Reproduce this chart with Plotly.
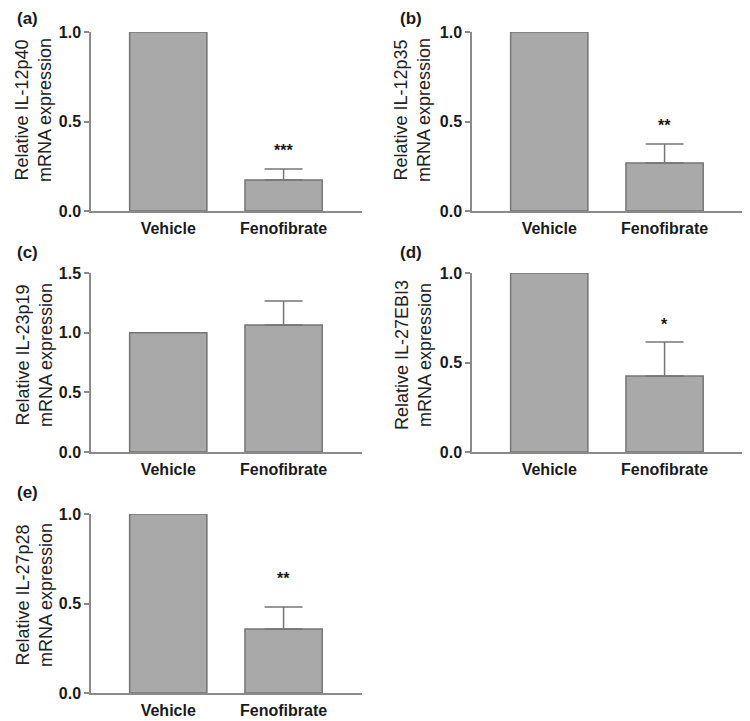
import plotly.graph_objects as go

# ---------------- data ----------------
panel_labels = ["(a)", "(b)", "(c)", "(d)", "(e)"]
y_titles = [
    "Relative IL-12p40<br>mRNA expression",
    "Relative IL-12p35<br>mRNA expression",
    "Relative IL-23p19<br>mRNA expression",
    "Relative IL-27EBI3<br>mRNA expression",
    "Relative IL-27p28<br>mRNA expression",
]
categories = ["Vehicle", "Fenofibrate"]
vehicle_values = [1.0, 1.0, 1.0, 1.0, 1.0]
fenofibrate_values = [0.173, 0.268, 1.064, 0.425, 0.358]
fenofibrate_sem = [0.062, 0.106, 0.201, 0.190, 0.122]
significance = ["***", "**", "", "*", "**"]
significance_y = [0.34, 0.475, None, 0.71, 0.637]
y_max = [1.0, 1.0, 1.5, 1.0, 1.0]
y_ticks = [[0.0, 0.5, 1.0], [0.0, 0.5, 1.0], [0.0, 0.5, 1.0, 1.5],
           [0.0, 0.5, 1.0], [0.0, 0.5, 1.0]]

# ---------------- layout geometry (screen pixels) ----------------
W, H = 750, 721
OFF = 8  # page body margin of the browser
col_x = [(91, 362), (472, 743)]
row_y = [(32, 211), (273, 452), (514, 693)]
title_x = [34, 413]
label_x = [27, 411]
label_y = [19, 252, 492]
title_yc = [110, 355, 595]


def fx(px):
    return (px - OFF) / W


def fy(py):
    return 1 - (py - OFF) / H


FONT = "Liberation Sans, Arial, Helvetica, sans-serif"
TXT = "#1a1a1a"
BAR_FILL = "#a9a9a9"
BAR_LINE = "#767676"
AXIS = "#8a8a8a"

fig = go.Figure()
layout = dict(
    width=W, height=H, margin=dict(l=0, r=0, t=0, b=0, pad=0),
    autosize=False,
    paper_bgcolor="white", plot_bgcolor="white",
    showlegend=False, barmode="overlay",
    font=dict(family=FONT, color=TXT),
)
annotations = []

for i in range(5):
    r, c = divmod(i, 2)
    n = "" if i == 0 else str(i + 1)
    xa, ya = "x" + n, "y" + n
    x0, x1 = col_x[c]
    y0, y1 = row_y[r]

    fig.add_trace(go.Bar(
        x=[categories[0]], y=[vehicle_values[i]], xaxis=xa, yaxis=ya,
        width=0.67, marker=dict(color=BAR_FILL, line=dict(color=BAR_LINE, width=1.5)),
    ))
    fig.add_trace(go.Bar(
        x=[categories[1]], y=[fenofibrate_values[i]], xaxis=xa, yaxis=ya,
        width=0.67, marker=dict(color=BAR_FILL, line=dict(color=BAR_LINE, width=1.5)),
        error_y=dict(type="data", symmetric=False, array=[fenofibrate_sem[i]],
                     arrayminus=[0], color=BAR_LINE, thickness=1.5, width=19),
    ))

    layout["xaxis" + n] = dict(
        domain=[fx(x0), fx(x1)], anchor=ya, type="category",
        categoryorder="array", categoryarray=categories,
        range=[-0.67, 1.68], showline=True, linecolor=AXIS, linewidth=1.5,
        ticks="outside", ticklen=2, tickcolor="rgba(0,0,0,0)",
        showgrid=False, zeroline=False, automargin=False,
        tickfont=dict(family=FONT, size=16, color=TXT, weight="bold"),
    )
    layout["yaxis" + n] = dict(
        domain=[fy(y1), fy(y0)], anchor=xa,
        range=[0, y_max[i]], tickvals=y_ticks[i],
        ticktext=[f"{v:.1f}" for v in y_ticks[i]],
        showline=True, linecolor=AXIS, linewidth=1.5,
        ticks="outside", ticklen=5, tickcolor=AXIS, tickwidth=1.5,
        showgrid=False, zeroline=False, automargin=False,
        tickfont=dict(family=FONT, size=16, color=TXT, weight="bold"),
    )

    annotations.append(dict(
        text=y_titles[i], xref="paper", yref="paper",
        x=fx(title_x[c]), y=fy(title_yc[r]), textangle=-90,
        showarrow=False, xanchor="center", yanchor="middle",
        font=dict(family=FONT, size=18, color="#222222"),
    ))
    annotations.append(dict(
        text="<b>" + panel_labels[i] + "</b>", xref="paper", yref="paper",
        x=fx(label_x[c]), y=fy(label_y[r]), showarrow=False,
        xanchor="center", yanchor="middle", borderpad=0,
        font=dict(family=FONT, size=17, color=TXT),
    ))
    if significance[i]:
        annotations.append(dict(
            text="<b>" + significance[i] + "</b>", xref=xa, yref=ya,
            x=categories[1], y=significance_y[i], showarrow=False,
            xanchor="center", yanchor="middle",
            font=dict(family=FONT, size=16, color=TXT),
        ))

layout["annotations"] = annotations
fig.update_layout(**layout)
fig.write_html("out.html")
